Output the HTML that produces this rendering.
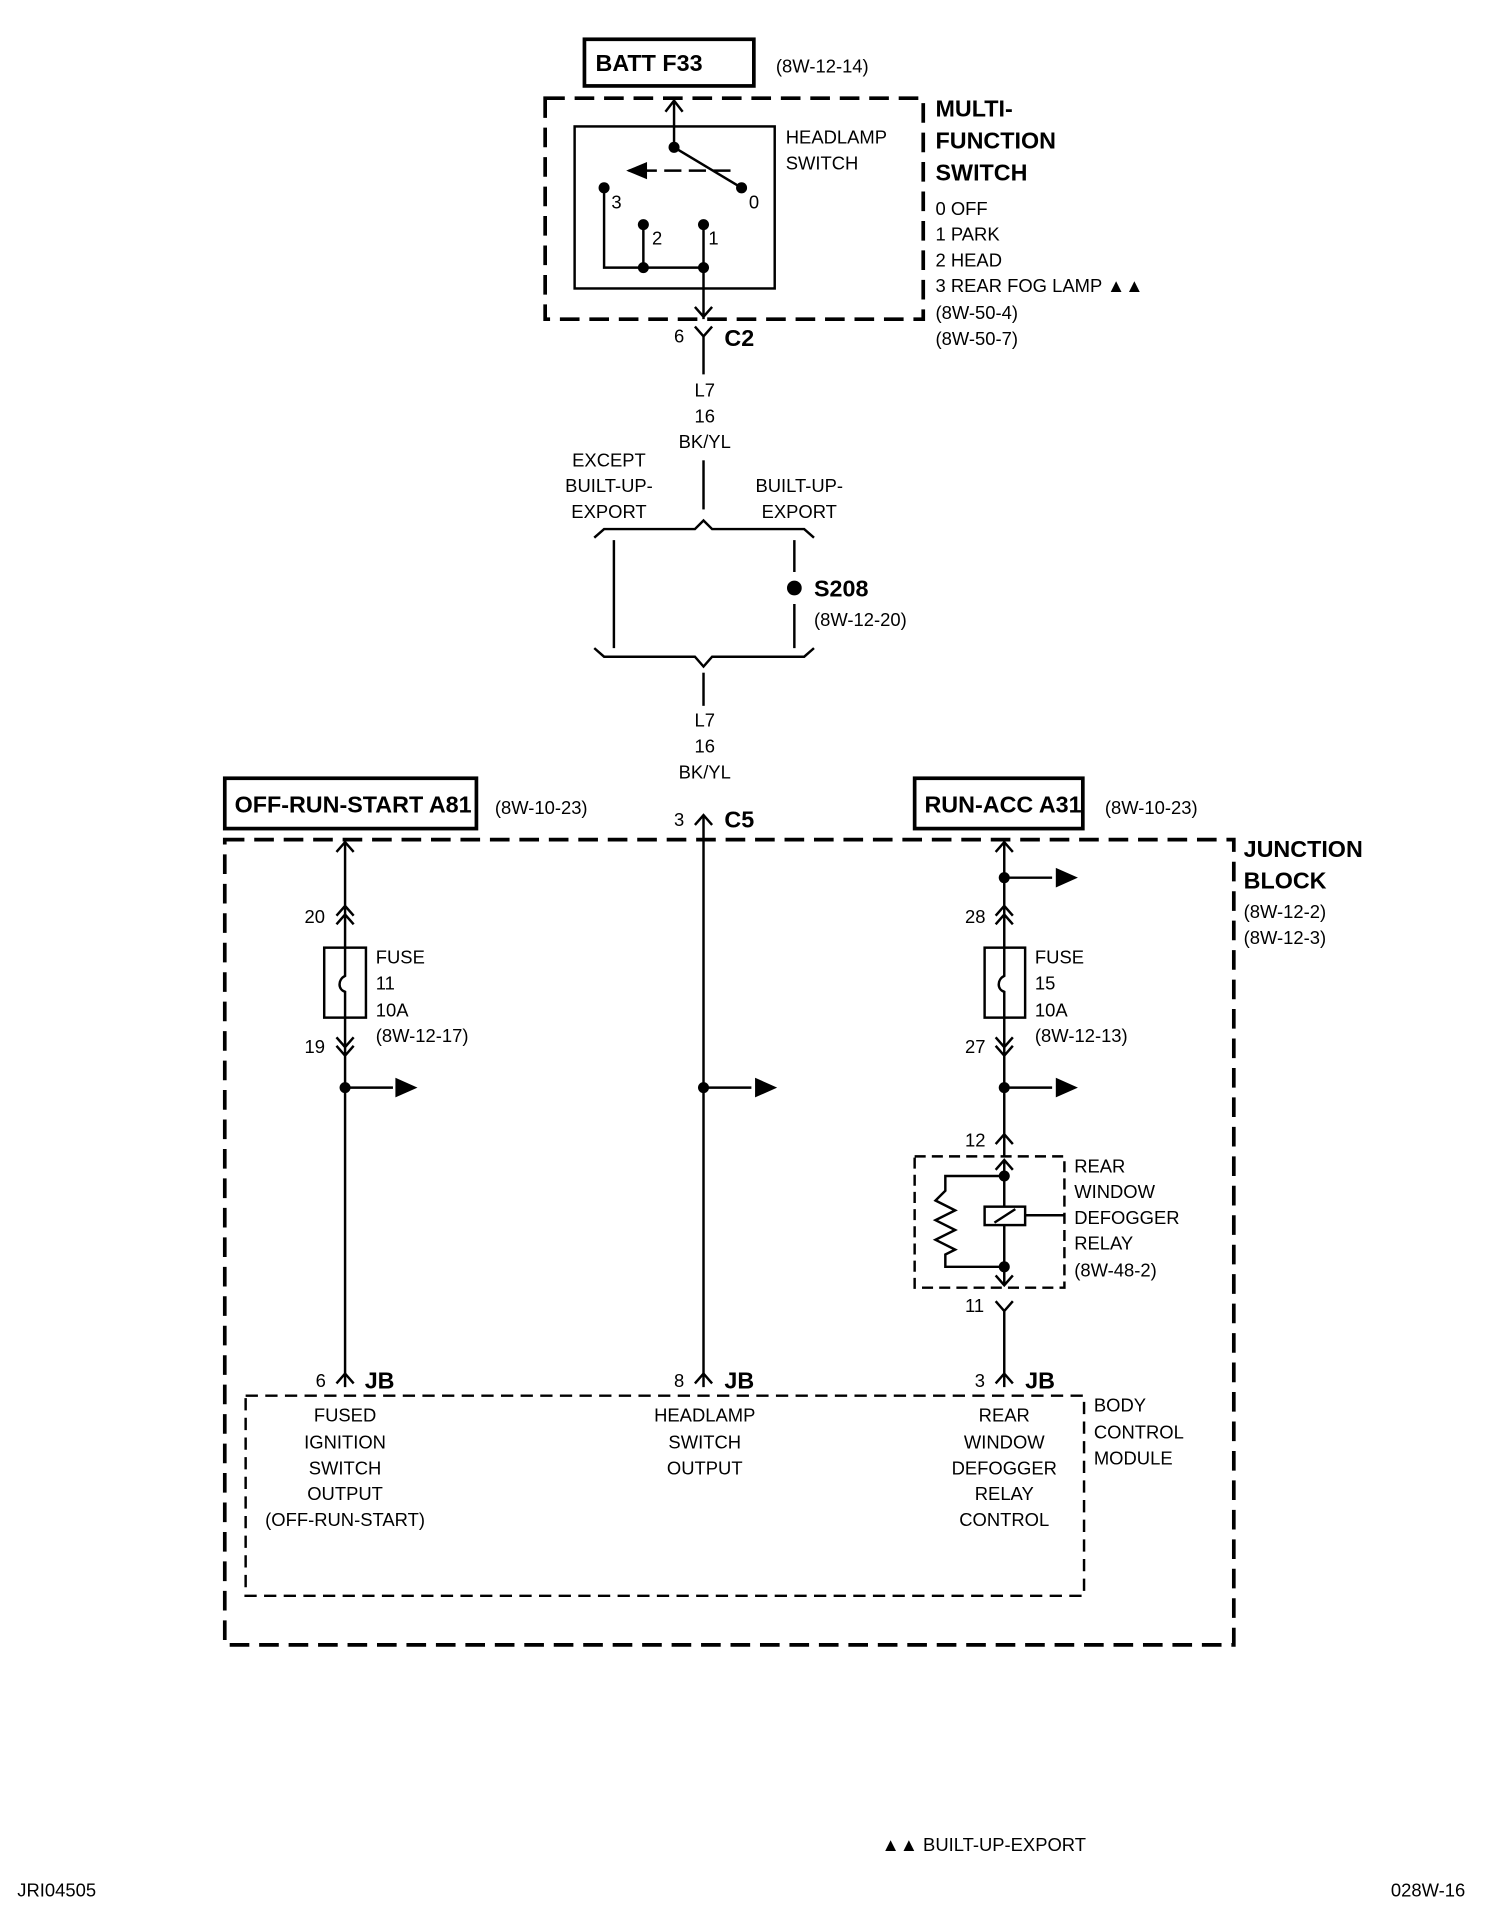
<!DOCTYPE html>
<html><head><meta charset="utf-8"><style>
html,body{margin:0;padding:0;background:#fff}
svg{display:block}
text{font-family:"Liberation Sans Narrow","Liberation Sans",sans-serif;font-size:15px;fill:#000}
.b{font-weight:bold;font-size:19px}
.m{text-anchor:middle}
</style></head><body>
<svg width="1504" height="1926" viewBox="0 0 1225 1569" xmlns="http://www.w3.org/2000/svg">
<g fill="none" stroke="#000" stroke-width="2">
<rect x="476" y="32" width="138" height="38" stroke-width="3"/>
<rect x="444" y="80" width="308" height="180" stroke-width="3" stroke-dasharray="16 8"/>
<rect x="468" y="103" width="163" height="132"/>
<path d="M549 82V120M542 91L549 82L556 91"/>
<path d="M549 120L604 153"/>
<path d="M595 139H512" stroke-dasharray="14 6"/>
<path d="M492 153V218H573M524 183V218M573 183V260M566 250L573 258L580 250"/>
<path d="M566 266L573 274L580 266M573 274V305"/>
<path d="M573 375V415"/>
<path d="M484 438L492 431H566L573 424L580 431H655L663 438"/>
<path d="M500 440V528M647 440V466M647 492V528"/>
<path d="M484 528L492 535H566L573 543L580 535H655L663 528"/>
<path d="M573 548V575"/>
<rect x="183" y="634" width="205" height="41" stroke-width="3"/>
<rect x="745" y="634" width="137" height="41" stroke-width="3"/>
<path d="M566 672L573 664L580 672M573 664V1130"/>
<rect x="183" y="684" width="822" height="656" stroke-width="3" stroke-dasharray="16 8"/>
<path d="M281 684V772M274 694L281 686L288 694M274 746L281 738L288 746M274 753L281 745L288 753"/>
<rect x="264" y="772" width="34" height="57"/>
<path d="M281 772V795C275 798 275 806 281 808V829"/>
<path d="M281 829V1130M274 845L281 853L288 845M274 852L281 860L288 852"/>
<path d="M281 886H320M573 886H612M818 886H857M818 715H857"/>
<path d="M818 684V772M811 694L818 686L825 694M811 746L818 738L825 746M811 753L818 745L825 753"/>
<rect x="802" y="772" width="33" height="57"/>
<path d="M818 772V795C812 798 812 806 818 808V829"/>
<path d="M818 829V942M811 845L818 853L825 845M811 852L818 860L825 852"/>
<path d="M811 932L818 924L825 932"/>
<rect x="745" y="942" width="122" height="107" stroke-dasharray="9 5"/>
<path d="M811 953L818 945L825 953M818 945V1047M811 1039L818 1047L825 1039"/>
<path d="M818 958H770V970L762 978L778 986L762 994L778 1002L762 1010L778 1018L770 1022V1032H818"/>
<rect x="802" y="983" width="33" height="15" fill="#fff"/>
<path d="M810 996L827 985M835 990H867" stroke-dasharray="none"/>
<path d="M811 1060L818 1068L825 1060M818 1068V1130"/>
<path d="M274 1127L281 1119L288 1127M566 1127L573 1119L580 1127M811 1127L818 1119L825 1127"/>
<rect x="200" y="1137" width="683" height="163" stroke-dasharray="10 6"/>
</g>
<g fill="#000">
<polygon points="510,139 527,132 527,146"/>
<polygon points="340,886 322,878 322,894"/>
<polygon points="633,886 615,878 615,894"/>
<polygon points="878,886 860,878 860,894"/>
<polygon points="878,715 860,707 860,723"/>
<circle cx="549" cy="120" r="4.5"/><circle cx="604" cy="153" r="4.5"/><circle cx="492" cy="153" r="4.5"/>
<circle cx="524" cy="183" r="4.5"/><circle cx="573" cy="183" r="4.5"/><circle cx="524" cy="218" r="4.5"/><circle cx="573" cy="218" r="4.5"/>
<circle cx="647" cy="479" r="6"/>
<circle cx="281" cy="886" r="4.5"/><circle cx="573" cy="886" r="4.5"/><circle cx="818" cy="886" r="4.5"/><circle cx="818" cy="715" r="4.5"/>
<circle cx="818" cy="958" r="4.5"/><circle cx="818" cy="1032" r="4.5"/>
</g>
<text class="b" x="485" y="58">BATT F33</text>
<text x="632" y="59">(8W-12-14)</text>
<text x="640" y="117">HEADLAMP</text><text x="640" y="138">SWITCH</text>
<text x="498" y="170">3</text><text x="610" y="170">0</text><text x="531" y="199">2</text><text x="577" y="199">1</text>
<text class="b" x="762" y="95">MULTI-</text><text class="b" x="762" y="121">FUNCTION</text><text class="b" x="762" y="147">SWITCH</text>
<text x="762" y="175">0 OFF</text><text x="762" y="196">1 PARK</text><text x="762" y="217">2 HEAD</text><text x="762" y="238">3 REAR FOG LAMP ▲▲</text>
<text x="762" y="260">(8W-50-4)</text><text x="762" y="281">(8W-50-7)</text>
<text x="549" y="279">6</text><text class="b" x="590" y="282">C2</text>
<text class="m" x="574" y="323">L7</text><text class="m" x="574" y="344">16</text><text class="m" x="574" y="365">BK/YL</text>
<text class="m" x="496" y="380">EXCEPT</text><text class="m" x="496" y="401">BUILT-UP-</text><text class="m" x="496" y="422">EXPORT</text>
<text class="m" x="651" y="401">BUILT-UP-</text><text class="m" x="651" y="422">EXPORT</text>
<text class="b" x="663" y="486">S208</text><text x="663" y="510">(8W-12-20)</text>
<text class="m" x="574" y="592">L7</text><text class="m" x="574" y="613">16</text><text class="m" x="574" y="634">BK/YL</text>
<text class="b" x="191" y="662">OFF-RUN-START A81</text><text x="403" y="663">(8W-10-23)</text>
<text class="b" x="753" y="662">RUN-ACC A31</text><text x="900" y="663">(8W-10-23)</text>
<text x="549" y="673">3</text><text class="b" x="590" y="674">C5</text>
<text class="b" x="1013" y="698">JUNCTION</text><text class="b" x="1013" y="724">BLOCK</text>
<text x="1013" y="748">(8W-12-2)</text><text x="1013" y="769">(8W-12-3)</text>
<text x="248" y="752">20</text><text x="248" y="858">19</text>
<text x="306" y="785">FUSE</text><text x="306" y="806">11</text><text x="306" y="828">10A</text><text x="306" y="849">(8W-12-17)</text>
<text x="786" y="752">28</text><text x="786" y="858">27</text>
<text x="843" y="785">FUSE</text><text x="843" y="806">15</text><text x="843" y="828">10A</text><text x="843" y="849">(8W-12-13)</text>
<text x="786" y="934">12</text><text x="786" y="1069">11</text>
<text x="875" y="955">REAR</text><text x="875" y="976">WINDOW</text><text x="875" y="997">DEFOGGER</text><text x="875" y="1018">RELAY</text><text x="875" y="1040">(8W-48-2)</text>
<text x="257" y="1130">6</text><text class="b" x="297" y="1131">JB</text>
<text x="549" y="1130">8</text><text class="b" x="590" y="1131">JB</text>
<text x="794" y="1130">3</text><text class="b" x="835" y="1131">JB</text>
<text x="891" y="1150">BODY</text><text x="891" y="1172">CONTROL</text><text x="891" y="1193">MODULE</text>
<text class="m" x="281" y="1158">FUSED</text><text class="m" x="281" y="1180">IGNITION</text><text class="m" x="281" y="1201">SWITCH</text><text class="m" x="281" y="1222">OUTPUT</text><text class="m" x="281" y="1243">(OFF-RUN-START)</text>
<text class="m" x="574" y="1158">HEADLAMP</text><text class="m" x="574" y="1180">SWITCH</text><text class="m" x="574" y="1201">OUTPUT</text>
<text class="m" x="818" y="1158">REAR</text><text class="m" x="818" y="1180">WINDOW</text><text class="m" x="818" y="1201">DEFOGGER</text><text class="m" x="818" y="1222">RELAY</text><text class="m" x="818" y="1243">CONTROL</text>
<text x="718" y="1508">▲▲ BUILT-UP-EXPORT</text>
<text x="14" y="1545">JRI04505</text>
<text x="1133" y="1545">028W-16</text>
</svg>
</body></html>
